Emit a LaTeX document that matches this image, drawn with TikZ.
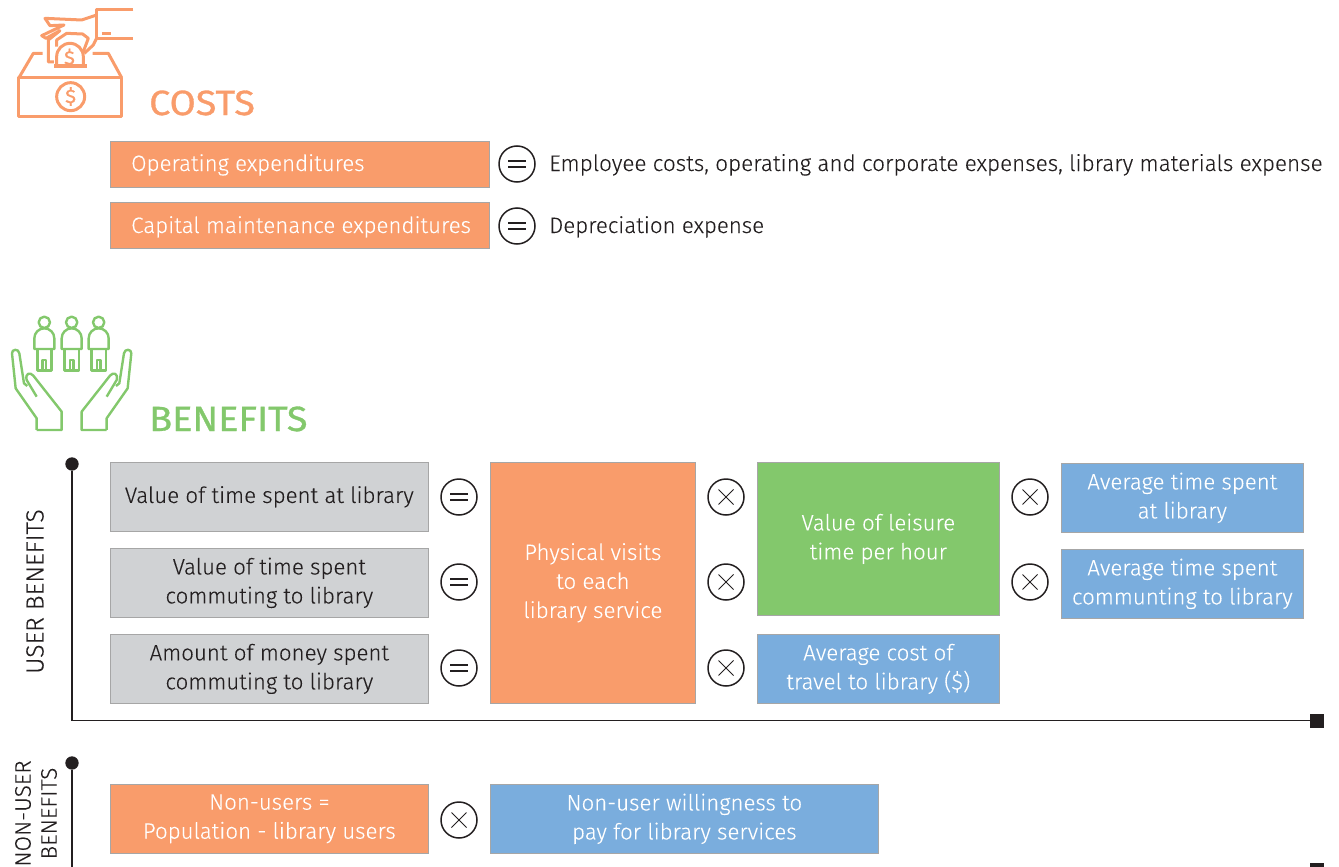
\documentclass[tikz,border=0pt]{standalone}
\usepackage{fontspec}
\setmainfont{Fira Sans Light}[FakeBold=0.12]
\newfontfamily\headfont{Fira Sans}[FakeStretch=1.08,FakeBold=0.9]
\definecolor{cOr}{HTML}{F99C6B}
\definecolor{cGr}{HTML}{83C86C}
\definecolor{cBl}{HTML}{7AADDD}
\definecolor{cGy}{HTML}{D0D2D4}
\definecolor{cTx}{HTML}{231F20}
\tikzset{
 bx/.style={draw=black!35,line width=.7pt,inner sep=0pt,align=center,font=\fontsize{22.3}{29}\selectfont,anchor=north west},
 orbx/.style={bx,fill=cOr,text=white},
 grbx/.style={bx,fill=cGr,text=white},
 blbx/.style={bx,fill=cBl,text=white},
 gybx/.style={bx,fill=cGy,text=cTx},
 sym/.style={circle,draw=cTx,line width=1.5pt,minimum size=36pt,inner sep=0pt},
 plain/.style={text=cTx,font=\fontsize{22.3}{29}\selectfont,inner sep=0pt},
 axis/.style={draw=cTx,line width=1.3pt},
 ico/.style={line width=3pt,line join=round,line cap=butt},
}
\newcommand{\bxat}[7]{\node[#1,minimum width=#5pt-#3pt,minimum height=#6pt-#4pt] (#2) at (#3,#4) {#7};}
\newcommand{\eqsym}[3]{\node[sym] (#1) at (#2,#3) {};
 \draw[cTx,line width=1.7pt] ([xshift=-9pt,yshift=3.2pt]#1.center) -- ([xshift=9pt,yshift=3.2pt]#1.center);
 \draw[cTx,line width=1.7pt] ([xshift=-9pt,yshift=-3.2pt]#1.center) -- ([xshift=9pt,yshift=-3.2pt]#1.center);}
\newcommand{\xsym}[3]{\node[sym] (#1) at (#2,#3) {};
 \draw[cTx,line width=.8pt] ([xshift=-7.5pt,yshift=7.5pt]#1.center) -- ([xshift=7.5pt,yshift=-7.5pt]#1.center);
 \draw[cTx,line width=.8pt] ([xshift=-7.5pt,yshift=-7.5pt]#1.center) -- ([xshift=7.5pt,yshift=7.5pt]#1.center);}
\begin{document}
\begin{tikzpicture}[x=1pt,y=-1pt]
\useasboundingbox (0,0) rectangle (1339,867);
\clip (0,0) rectangle (1339,867);
% cost icon
\begin{scope}[x=.3333pt,y=-.3333pt,draw=cOr,ico]
\draw (57,233) rectangle (365,350);
\draw (57,233) -- (100,160) -- (128,160);
\draw (365,233) -- (325,160) -- (278,160);
\draw (212,290) circle (42);
\draw[line width=4pt] (163,198) -- (260,198);
\draw (400,30) -- (290,30) -- (290,115) -- (400,115);
\draw (306,100) -- (333,100);
\draw (290,45) -- (245,60) -- (135,55) -- (150,77) -- (192,75) -- (125,107) -- (138,115) -- (180,92) -- (145,120) -- (145,186) -- (162,186);
\draw (170,140) -- (170,120) -- (200,100) -- (248,102) -- (265,115) -- (250,155);
\draw (292,110) -- (280,135) -- (253,160);
\draw (170,198) -- (170,170) arc (180:360:40) -- (250,198);
\end{scope}
\node[text=cOr,font=\fontsize{19}{20}\headfont] (dola) at (70.6,96.5) {\$};
\node[text=cOr,font=\fontsize{19}{20}\headfont] (dolb) at (69.5,58) {\$};
\node[text=cOr,font=\fontsize{35}{40}\headfont,anchor=base west,inner sep=0pt] (costs) at (149,115) {COSTS};
% benefits icon
\begin{scope}[x=.3333pt,y=-.3333pt,yshift=-305pt,draw=cGr,ico,line width=2.4pt]
\foreach \ox in {0,82,163}{
 \begin{scope}[xshift=\ox*.3333pt]
 \draw (133,52) circle (17);
 \draw (103,132) -- (103,100) arc (180:360:30) -- (163,132) -- cycle;
 \draw (112,132) -- (112,197) -- (155,197) -- (155,132);
 \draw (128,197) -- (128,165) -- (138,165) -- (138,197);
 \end{scope}}
\foreach \s/\o in {1/0,-1/430}{
 \begin{scope}[shift={(\o,0)},xscale=\s]
 \draw (110,375) -- (185,375) -- (185,320) -- (100,212) .. controls (90,200) and (75,205) .. (80,225) -- (110,275);
 \draw (110,375) -- (110,340) -- (47,250) -- (36,145) .. controls (35,132) and (56,130) .. (58,145) -- (72,235) -- (82,243);
 \end{scope}}
\end{scope}
\node[text=cGr,font=\fontsize{35}{40}\headfont,anchor=base west,inner sep=0pt] (bens) at (149,431) {BENEFITS};
% costs
\bxat{orbx}{op}{110}{141}{489}{187}{}
\bxat{orbx}{cap}{110}{202}{489}{248}{}
\node[plain,text=white,anchor=base west] (opt) at (131,171) {Operating expenditures};
\node[plain,text=white,anchor=base west] (capt) at (131,233) {Capital maintenance expenditures};
\eqsym{e1}{517}{164}
\eqsym{e2}{517}{226}
\node[plain,anchor=base west,font=\fontsize{22.5}{29}\selectfont] (d1) at (549,171) {Employee costs, operating and corporate expenses, library materials expense};
\node[plain,anchor=base west] (d2) at (549,233) {Depreciation expense};
% user benefits
\node[axis,circle,fill=cTx,minimum size=12pt,inner sep=0pt] (ua) at (72,464) {};
\coordinate (ub) at (72,720.7);
\node[fill=cTx,minimum size=14pt,inner sep=0pt] (uc) at (1317,720.7) {};
\draw[axis] (ua) -- (ub) -- (uc);
\node[plain,rotate=90,font=\fontsize{24.8}{26}\selectfont] (ul) at (35,591.5) {USER BENEFITS};
\bxat{gybx}{g1}{110}{462}{428}{531}{Value of time spent at library}
\bxat{gybx}{g2}{110}{548}{428}{617}{Value of time spent\\commuting to library}
\bxat{gybx}{g3}{110}{634}{428}{703}{Amount of money spent\\commuting to library}
\eqsym{e3}{459}{497}
\eqsym{e4}{459}{582}
\eqsym{e5}{459}{668}
\bxat{orbx}{ov}{490}{462}{695}{703}{Physical visits\\to each\\library service}
\xsym{x1}{726}{497}
\xsym{x2}{726}{582}
\xsym{x3}{726}{668}
\bxat{grbx}{gl}{757}{462}{999}{615}{Value of leisure\\time per hour}
\bxat{blbx}{b1}{757}{634}{999}{703}{Average cost of\\travel to library (\$)}
\xsym{x4}{1030}{497}
\xsym{x5}{1030}{582}
\bxat{blbx}{b2}{1061}{463}{1303}{532}{Average time spent\\at library}
\bxat{blbx}{b3}{1061}{549}{1303}{618}{Average time spent\\communting to library}
% non-user
\node[axis,circle,fill=cTx,minimum size=12pt,inner sep=0pt] (na) at (72,763) {};
\coordinate (nb) at (72,867);
\draw[axis] (na) -- (nb);
\node[fill=cTx,minimum size=14pt,inner sep=0pt] (nc) at (1317,870) {};
\node[plain,rotate=90,align=center,font=\fontsize{22.5}{26}\selectfont] (nl) at (36,813.5) {NON-USER\\BENEFITS};
\bxat{orbx}{n1}{110}{784}{428}{853}{Non-users =\\Population - library users}
\xsym{x6}{459}{820}
\bxat{blbx}{n2}{490}{784}{878}{853}{Non-user willingness to\\pay for library services}
\end{tikzpicture}
\end{document}
